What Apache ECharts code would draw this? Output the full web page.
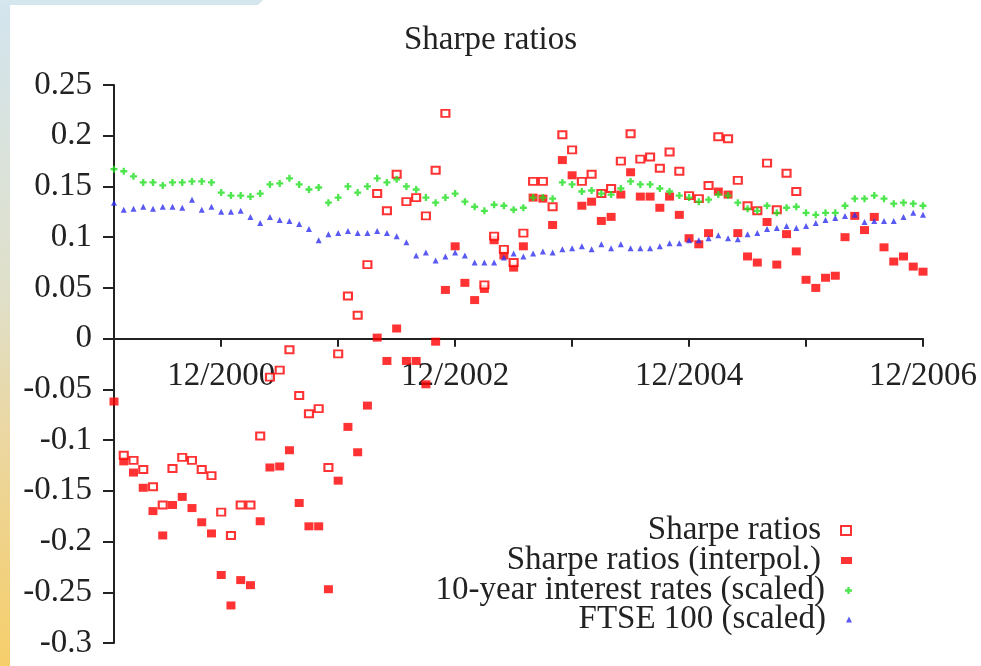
<!DOCTYPE html>
<html>
<head>
<meta charset="utf-8">
<title>Sharpe ratios</title>
<script src="https://cdn.jsdelivr.net/npm/echarts@6/dist/echarts.min.js"></script>
<style>
  html, body { margin: 0; padding: 0; background: #fff; }
  #chart { width: 981px; height: 666px; }
</style>
</head>
<body>
<div id="chart"></div>
<script>
// monthly categories, Jan 2000 .. Dec 2006
const years = [2000, 2001, 2002, 2003, 2004, 2005, 2006]
const months = []
years.forEach(y => { for (let m = 1; m <= 12; m++) months.push(m + '/' + y) })
const labelMonths = ['12/2000', '12/2002', '12/2004', '12/2006']

// Sharpe ratios (open squares), null = no value that month
const sharpe = [
  null, -0.115, -0.120, -0.129, -0.146, -0.164, -0.128, -0.117, -0.120, -0.129, -0.135, -0.171,
  -0.194, -0.164, -0.164, -0.096, -0.038, -0.031, -0.011, -0.056, -0.074, -0.069, -0.127, -0.015,
  0.042, 0.023, 0.073, 0.143, 0.126, 0.162, 0.135, 0.139, 0.121, 0.166, 0.222, null,
  null, null, 0.053, 0.101, 0.088, 0.075, 0.104, 0.155, 0.155, 0.130, 0.201, 0.186,
  0.155, 0.162, 0.143, 0.148, 0.175, 0.202, 0.177, 0.179, 0.168, 0.184, 0.165, 0.141,
  0.138, 0.151, 0.199, 0.197, 0.156, 0.131, 0.126, 0.173, 0.127, 0.163, 0.145, null,
  null, null, null, null, null, null, null, null, null, null, null, null
]

// Sharpe ratios (interpol.) (filled squares)
const sharpeInterp = [
  -0.062, -0.121, -0.132, -0.147, -0.170, -0.194, -0.164, -0.156, -0.167, -0.181, -0.192, -0.233,
  -0.263, -0.238, -0.243, -0.180, -0.127, -0.126, -0.110, -0.162, -0.185, -0.185, -0.247, -0.140,
  -0.087, -0.112, -0.066, 0.001, -0.022, 0.010, -0.022, -0.022, -0.045, -0.003, 0.048, 0.091,
  0.055, 0.038, 0.049, 0.097, 0.082, 0.070, 0.091, 0.139, 0.138, 0.112, 0.176, 0.161,
  0.131, 0.135, 0.116, 0.120, 0.142, 0.164, 0.140, 0.140, 0.129, 0.140, 0.122, 0.099,
  0.093, 0.104, 0.145, 0.142, 0.104, 0.081, 0.075, 0.115, 0.073, 0.103, 0.086, 0.058,
  0.050, 0.060, 0.062, 0.100, 0.121, 0.107, 0.120, 0.090, 0.076, 0.081, 0.071, 0.066
]

// 10-year interest rates (scaled)
const rates = [
  0.167, 0.165, 0.160, 0.154, 0.154, 0.151, 0.154, 0.154, 0.155, 0.155, 0.154, 0.144,
  0.141, 0.141, 0.140, 0.143, 0.152, 0.153, 0.158, 0.152, 0.147, 0.149, 0.134, 0.139,
  0.150, 0.144, 0.150, 0.158, 0.154, 0.157, 0.150, 0.147, 0.139, 0.134, 0.139, 0.143,
  0.135, 0.130, 0.126, 0.132, 0.131, 0.127, 0.129, 0.139, 0.139, 0.138, 0.154, 0.152,
  0.145, 0.146, 0.143, 0.142, 0.148, 0.155, 0.152, 0.152, 0.148, 0.145, 0.141, 0.139,
  0.135, 0.137, 0.142, 0.141, 0.134, 0.128, 0.126, 0.131, 0.124, 0.129, 0.130, 0.124,
  0.122, 0.124, 0.124, 0.131, 0.138, 0.138, 0.141, 0.138, 0.133, 0.134, 0.133, 0.131
]

// FTSE 100 (scaled)
const ftse = [
  0.134, 0.127, 0.128, 0.130, 0.128, 0.130, 0.130, 0.129, 0.137, 0.127, 0.130, 0.125,
  0.125, 0.126, 0.120, 0.114, 0.120, 0.117, 0.116, 0.113, 0.108, 0.097, 0.103, 0.104,
  0.106, 0.104, 0.104, 0.106, 0.104, 0.101, 0.095, 0.082, 0.085, 0.077, 0.081, 0.085,
  0.082, 0.075, 0.075, 0.075, 0.080, 0.084, 0.081, 0.084, 0.086, 0.085, 0.088, 0.089,
  0.091, 0.088, 0.093, 0.089, 0.093, 0.089, 0.089, 0.089, 0.091, 0.094, 0.094, 0.097,
  0.097, 0.099, 0.102, 0.099, 0.098, 0.103, 0.104, 0.108, 0.109, 0.111, 0.109, 0.111,
  0.114, 0.117, 0.119, 0.121, 0.122, 0.115, 0.116, 0.116, 0.116, 0.120, 0.124, 0.122
]

const seriesNames = ['Sharpe ratios', 'Sharpe ratios (interpol.)', '10-year interest rates (scaled)', 'FTSE 100 (scaled)']

const font = 'Liberation Serif, Times New Roman, serif'
const plusPath = 'path://M2,0H4V2H6V4H4V6H2V4H0V2H2Z'

let myChart = echarts.init(document.getElementById('chart'), null, { renderer: 'canvas' })

function legendFor(idx, top, w, h, style) {
  return {
    data: [{ name: seriesNames[idx], itemStyle: style }],
    orient: 'vertical',
    align: 'right',
    right: 129,
    top: top,
    padding: 0,
    itemWidth: w,
    itemHeight: h,
    selectedMode: false,
    textStyle: { fontFamily: font, fontSize: 33, color: '#222', lineHeight: 30, padding: [0, 15, 0, 0] }
  }
}

myChart.setOption({
  backgroundColor: '#fff',
  animation: false,
  graphic: [
    {
      type: 'rect',
      shape: { x: 0, y: 0, width: 10, height: 666 },
      style: {
        fill: new echarts.graphic.LinearGradient(0, 0, 0, 1, [
          { offset: 0, color: '#d3e5ef' },
          { offset: 0.45, color: '#e0dfc8' },
          { offset: 0.65, color: '#ebd7a2' },
          { offset: 1, color: '#f6ce6a' }
        ])
      }
    },
    {
      type: 'polygon',
      shape: { points: [[0, 0], [263, 0], [258, 5], [0, 5]] },
      style: { fill: '#d5e6ee' }
    }
  ],
  title: {
    text: 'Sharpe ratios',
    left: 'center',
    top: 19,
    textStyle: { fontFamily: font, fontSize: 33, fontWeight: 'normal', color: '#222' }
  },
  legend: [
    legendFor(0, 514, 10, 9, { color: '#fff', borderColor: '#ff0000', borderWidth: 2 }),
    legendFor(1, 544, 11, 7, { color: '#ff0000' }),
    legendFor(2, 574, 7, 7, { color: '#22e022' }),
    legendFor(3, 603, 6, 6, { color: '#3030f0' })
  ],
  grid: { left: 114, right: 58, top: 85, bottom: 23, containLabel: false, outerBoundsMode: 'none' },
  xAxis: [
    {
      // axis line drawn through y = 0, with a tick every December
      type: 'category',
      data: months,
      boundaryGap: false,
      axisLine: { onZero: true, lineStyle: { color: '#222', width: 2 } },
      axisTick: {
        length: 8,
        lineStyle: { color: '#222', width: 2 },
        interval: (i, v) => v.indexOf('12/') === 0
      },
      axisLabel: { show: false },
      splitLine: { show: false }
    },
    {
      // labels only, lifted up to sit right under the zero line
      type: 'category',
      data: months,
      boundaryGap: false,
      position: 'bottom',
      offset: -304,
      axisLine: { show: false, onZero: false },
      axisTick: { show: false },
      axisLabel: {
        interval: (i, v) => labelMonths.indexOf(v) >= 0,
        margin: 21,
        fontFamily: font,
        fontSize: 33,
        color: '#222'
      },
      splitLine: { show: false }
    }
  ],
  yAxis: {
    type: 'value',
    min: -0.3,
    max: 0.25,
    interval: 0.05,
    axisLine: { show: true, onZero: false, lineStyle: { color: '#222', width: 2 } },
    axisTick: { show: true, length: 11, lineStyle: { color: '#222', width: 2 } },
    axisLabel: {
      margin: 22,
      fontFamily: font,
      fontSize: 33,
      color: '#222',
      formatter: v => String(+v.toFixed(2))
    },
    splitLine: { show: false }
  },
  series: [
    {
      name: seriesNames[1],
      type: 'scatter',
      data: sharpeInterp,
      symbol: 'rect',
      symbolSize: [9, 8],
      itemStyle: { color: '#ff0000' },
      z: 2
    },
    {
      name: seriesNames[0],
      type: 'scatter',
      data: sharpe,
      symbol: 'rect',
      symbolSize: [8, 7],
      itemStyle: { color: '#fff', borderColor: '#ff0000', borderWidth: 2 },
      z: 3
    },
    {
      name: seriesNames[2],
      type: 'scatter',
      data: rates,
      symbol: plusPath,
      symbolSize: 7,
      itemStyle: { color: '#22e022' },
      z: 4
    },
    {
      name: seriesNames[3],
      type: 'scatter',
      data: ftse,
      symbol: 'triangle',
      symbolSize: 6,
      itemStyle: { color: '#3030f0' },
      z: 5
    }
  ]
})
</script>
</body>
</html>
